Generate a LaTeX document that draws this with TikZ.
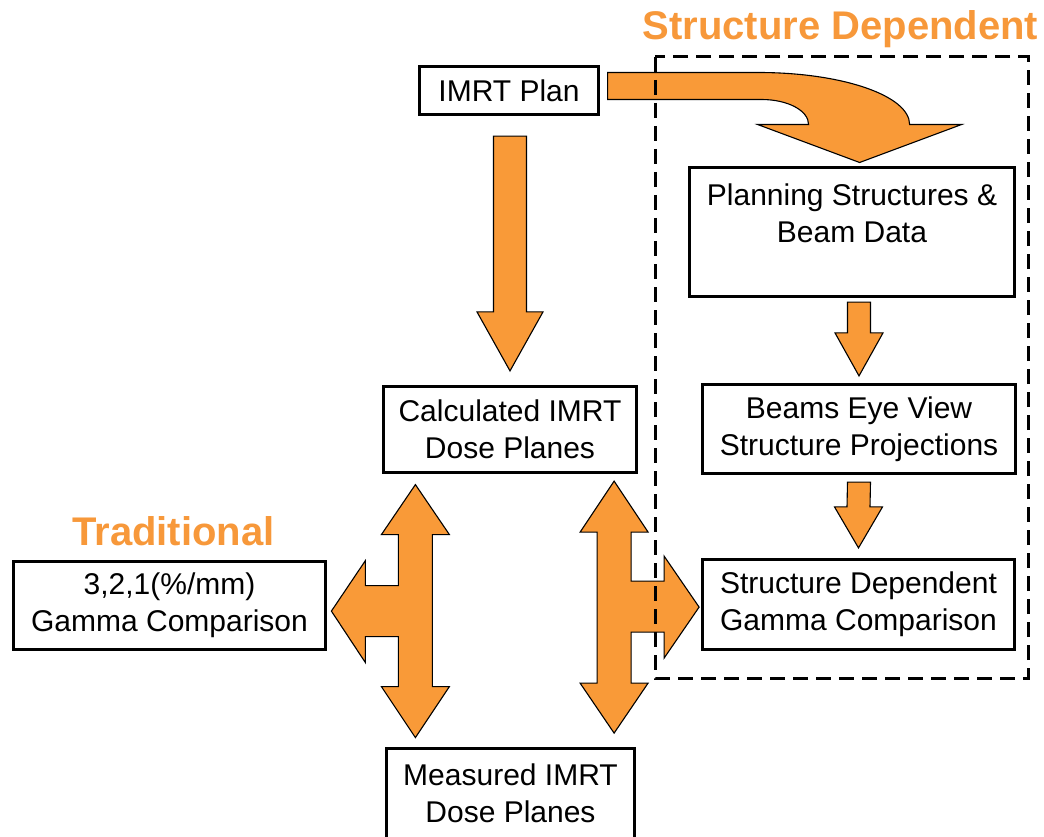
\documentclass[tikz,border=0pt]{standalone}
\usepackage{fontspec}
\setmainfont{Liberation Sans}
\usetikzlibrary{positioning,calc}

\definecolor{arroworange}{HTML}{F99A38}
\definecolor{titleorange}{HTML}{F7983A}

% straight block arrow pointing down: start, tip, shaft half width, head half width, head length
\newcommand{\blockdown}[5]{%
    \filldraw[block arrow] ($(#1)+(-#3,0)$) -- ($(#1)+(#3,0)$) -- ($(#2)+(#3,-#5)$) -- ($(#2)+(#4,-#5)$)
        -- (#2) -- ($(#2)+(-#4,-#5)$) -- ($(#2)+(-#3,-#5)$) -- cycle;}

\begin{document}
\begin{tikzpicture}[x=1pt,y=-1pt,align=center,main node/.style={draw,fill=white,rectangle,line width=3.2pt,inner sep=0pt,font=\fontsize{30}{37}\selectfont},block arrow/.style={fill=arroworange,draw=black,line width=1.1pt,line join=miter},title/.style={text=titleorange,anchor=base,inner sep=0pt,font=\fontsize{40}{45}\selectfont\bfseries}]
    \useasboundingbox (0,0) rectangle (1044,837);
    \clip (0,0) rectangle (1044,837);

    \node[main node, minimum width=179pt, minimum height=48pt] (1) at (509,90.5) {IMRT Plan};
    \node[main node, minimum width=325pt, minimum height=129pt] (2) at (852,232) {Planning Structures \&\\Beam Data\\~};
    \node[main node, minimum width=253pt, minimum height=86pt] (3) at (510,429.5) {Calculated IMRT\\Dose Planes};
    \node[main node, minimum width=313pt, minimum height=89pt] (4) at (859,429) {Beams Eye View\\Structure Projections};
    \node[main node, minimum width=312pt, minimum height=88pt] (5) at (169.5,605.5) {3,2,1(\%/mm)\\Gamma Comparison};
    \node[main node, minimum width=312pt, minimum height=90pt] (6) at (858.5,604.5) {Structure Dependent\\Gamma Comparison};
    \node[main node, minimum width=248pt, minimum height=90pt] (7) at (510.5,793.5) {Measured IMRT\\Dose Planes};

    \node[title] (8) at (840.5,40) {Structure Dependent};
    \node[title] (9) at (173.5,545) {Traditional};

    % straight arrows
    \coordinate (a1) at ($(1.south)+(1,20)$);
    \coordinate (b1) at ($(3.north)+(0,-14)$);
    \blockdown{a1}{b1}{16.5}{33}{59}
    \coordinate (a2) at ($(2.south -| 4.north)+(0,4)$);
    \coordinate (b2) at ($(4.north)+(0,-7)$);
    \blockdown{a2}{b2}{11.5}{24}{43}
    \coordinate (a3) at ($(4.south)+(0,7)$);
    \coordinate (b3) at ($(6.north)+(0,-10)$);
    \blockdown{a3}{b3}{11.5}{24}{41}

    % curved arrow from the plan into the structures
    \begin{scope}[shift={($(1.east)+(7.5,0)$)}]
        \filldraw[block arrow] (0,-18) -- (151,-18) .. controls (234,-18) and (302,5) .. (302,34)
            -- (354,34) -- (252,72) -- (150,34) -- (201,34) .. controls (201,20) and (180,9) .. (154,9)
            -- (0,9) -- cycle;
    \end{scope}

    % three way arrows between the dose planes and the comparisons
    \coordinate (lt) at ($(3.south west)+(33.5,10.5)$);
    \begin{scope}[shift={(lt)}]
        \filldraw[block arrow] (0,0) -- (34,50) -- (17,50) -- (17,202) -- (34,202) -- (0,253)
            -- (-34,202) -- (-17,202) -- (-17,152) -- (-50,152) -- (-50,178) -- (-84,126.5)
            -- (-50,76) -- (-50,101) -- (-17,101) -- (-17,50) -- (-34,50) -- cycle;
    \end{scope}
    \coordinate (rt) at ($(3.south east)+(-24,7)$);
    \begin{scope}[shift={(rt)}]
        \filldraw[block arrow] (0,0) -- (34,51) -- (17,51) -- (17,100) -- (50,100) -- (50,75)
            -- (85,126) -- (50,177) -- (50,151) -- (17,151) -- (17,202) -- (34,202) -- (0,252)
            -- (-34,202) -- (-17,202) -- (-17,51) -- (-34,51) -- cycle;
    \end{scope}

    % structure dependent group
    \draw[line width=3pt, dash pattern=on 15pt off 8pt] (655,57) rectangle (1028,678);
\end{tikzpicture}
\end{document}
